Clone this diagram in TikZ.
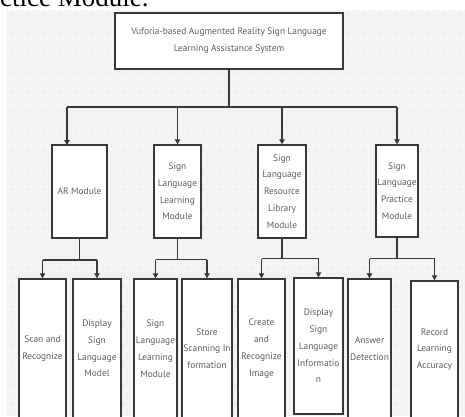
\documentclass[tikz,border=0pt]{standalone}
\usepackage{fontspec}
\newfontfamily\boxfont{PT Sans}
\newfontfamily\paperserif{Liberation Serif}
\usetikzlibrary{arrows.meta}
\definecolor{bgc}{HTML}{F3F3F5}
\definecolor{dotc}{HTML}{D6D6DA}
\definecolor{linec}{HTML}{383838}
\definecolor{txtc}{HTML}{5E5E5E}
\tikzset{
  box/.style={draw=linec, line width=1.5pt, fill=white, text=txtc, align=center,
    inner sep=0pt, font=\boxfont\fontsize{9.4}{16.8}\selectfont},
  conn/.style={draw=linec, line width=1.2pt},
  arr/.style={conn, -{Triangle[length=5pt,width=5.5pt]}}
}
\begin{document}
\begin{tikzpicture}[x=1pt,y=-1pt]
\useasboundingbox (0,0) rectangle (465,416);
\clip (0,0) rectangle (465,416);
% background
\fill[white] (0,0) rectangle (465,416);
\fill[bgc] (7,10) rectangle (465,416);
\foreach \i in {0,...,28} {
  \foreach \j in {0,...,21} {
    \fill[dotc] (11+\i*16,14+\j*19.5) circle (0.8);
  }
}
% cropped text of the surrounding page
\node[anchor=base west, inner sep=0pt, font=\paperserif\fontsize{27}{27}\selectfont] (ptxt) at (0,6.5) {ctice Module.};
% top
\node[box, minimum width=228pt, minimum height=56pt] (top) at (229,41) {Vuforia-based Augmented Reality Sign Language\\Learning Assistance System};
% level 2
\node[box, minimum width=55pt, minimum height=93pt] (ar) at (79.5,191.5) {AR Module};
\node[box, minimum width=47pt, minimum height=93pt] (sll) at (177.5,191.5) {Sign\\Language\\Learning\\Module};
\node[box, minimum width=48pt, minimum height=93pt] (slr) at (282,191.5) {Sign\\Language\\Resource\\Library\\Module};
\node[box, minimum width=42pt, minimum height=92pt] (slp) at (397,191) {Sign\\Language\\Practice\\Module};
% level 3
\node[box, minimum width=47pt, minimum height=139pt] (scan) at (42.5,348.5) {Scan and\\Recognize};
\node[box, minimum width=48pt, minimum height=139pt] (dslm) at (97,348.5) {Display\\Sign\\Language\\Model};
\node[box, minimum width=43pt, minimum height=139pt] (sllm) at (155.5,348.5) {Sign\\Language\\Learning\\Module};
\node[box, minimum width=50pt, minimum height=139pt] (store) at (207,348.5) {Store\\Scanning In\\formation};
\node[box, minimum width=47pt, minimum height=139pt] (create) at (261.5,348.5) {Create\\and\\Recognize\\Image};
\node[box, minimum width=49pt, minimum height=136pt] (dsli) at (318.5,346) {Display\\Sign\\Language\\Informatio\\n};
\node[box, minimum width=43pt, minimum height=139pt] (answer) at (369.5,348.5) {Answer\\Detection};
\node[box, minimum width=47pt, minimum height=137pt] (record) at (434.5,349.5) {Record\\Learning\\Accuracy};
% connectors level 1 -> 2
\coordinate (bar1) at (0,107);
\coordinate (arin) at (67,145);
\draw[conn] (top.south) -- (top.south |- bar1);
\draw[conn] (arin |- bar1) -- (slp.north |- bar1);
\draw[arr] (arin |- bar1) -- (arin);
\draw[arr] (sll.north |- bar1) -- (sll.north);
\draw[arr] (slr.north |- bar1) -- (slr.north);
\draw[arr] (slp.north |- bar1) -- (slp.north);
% AR
\coordinate (b2) at (0,260);
\draw[conn] (ar.south) -- (ar.south |- b2);
\draw[conn] (scan.north |- b2) -- (dslm.north |- b2);
\draw[arr] (scan.north |- b2) -- (scan.north);
\draw[arr] (dslm.north |- b2) -- (dslm.north);
% SLL
\coordinate (b3) at (0,259.5);
\draw[conn] (sll.south) -- (sll.south |- b3);
\draw[conn] (sllm.north |- b3) -- (store.north |- b3);
\draw[arr] (sllm.north |- b3) -- (sllm.north);
\draw[arr] (store.north |- b3) -- (store.north);
% SLR
\coordinate (b4) at (0,258.5);
\draw[conn] (slr.south) -- (slr.south |- b4);
\draw[conn] (create.north |- b4) -- (dsli.north |- b4);
\draw[arr] (create.north |- b4) -- (create.north);
\draw[arr] (dsli.north |- b4) -- (dsli.north);
% SLP
\coordinate (b5) at (0,258.5);
\draw[conn] (slp.south) -- (slp.south |- b5);
\draw[conn] (answer.north |- b5) -- (record.north |- b5);
\draw[arr] (answer.north |- b5) -- (answer.north);
\draw[arr] (record.north |- b5) -- (record.north);
\end{tikzpicture}
\end{document}
